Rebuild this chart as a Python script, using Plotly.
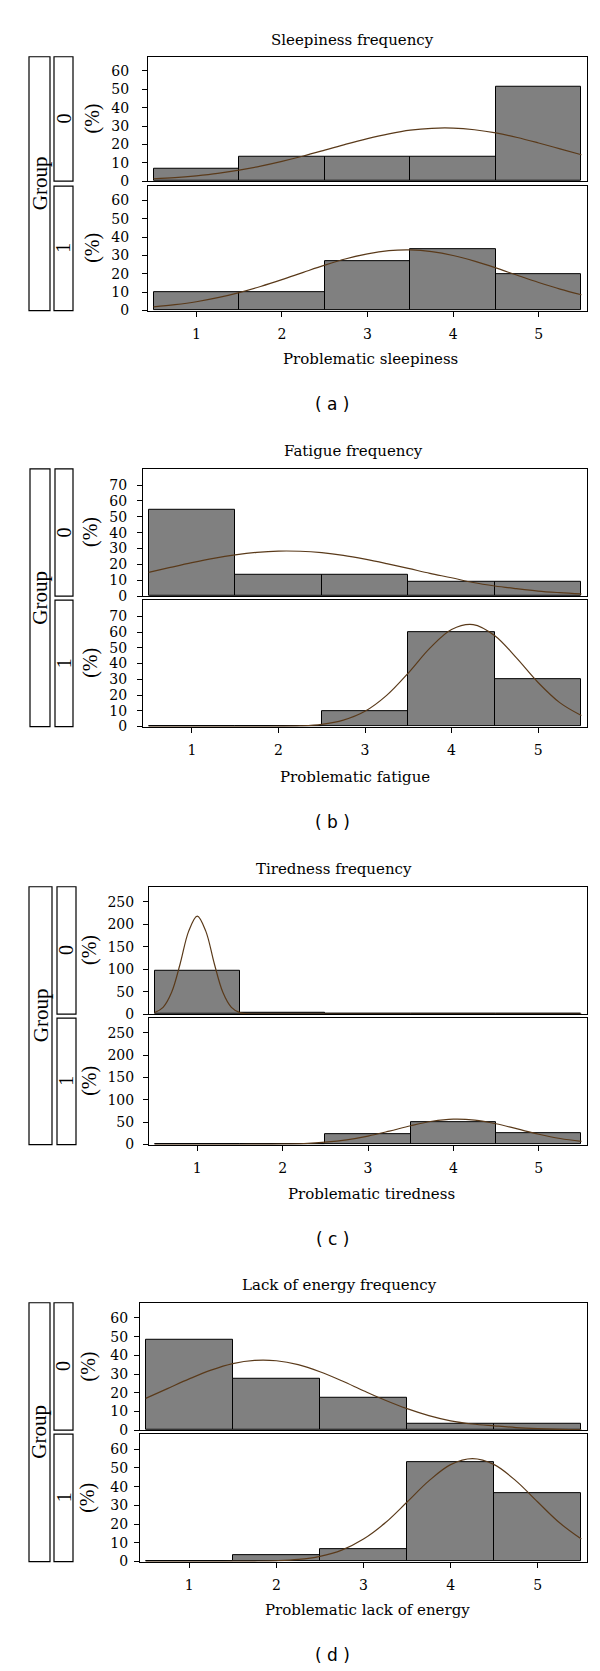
import plotly.graph_objects as go

# ---------------- data ----------------
CATS = [1, 2, 3, 4, 5]
X_TICKS = [1, 2, 3, 4, 5]
CURVE_X = [0.5, 0.75, 1.0, 1.25, 1.5, 1.75, 2.0, 2.25, 2.5, 2.75, 3.0,
           3.25, 3.5, 3.75, 4.0, 4.25, 4.5, 4.75, 5.0, 5.25, 5.5]

sleep_g0 = [6.5, 13.5, 13.5, 13.5, 51.5]
sleep_g1 = [10.0, 10.0, 26.7, 33.3, 20.0]
sleep_g0_curve = [1.3, 1.9, 2.9, 4.2, 6.0, 8.2, 10.8, 13.7, 16.9, 20.2, 23.2,
                  25.8, 27.8, 28.8, 28.9, 28.0, 26.3, 23.8, 20.8, 17.6, 14.4]
sleep_g1_curve = [2.0, 3.2, 4.8, 7.0, 9.8, 13.1, 16.8, 20.8, 24.7, 28.2, 30.9,
                  32.6, 33.0, 32.1, 30.0, 26.9, 23.2, 19.2, 15.3, 11.7, 8.6]

fatigue_g0 = [54.3, 13.6, 13.6, 9.1, 9.1]
fatigue_g1 = [0.0, 0.0, 10.0, 60.0, 30.0]
fatigue_g0_curve = [15.0, 18.1, 21.1, 23.8, 26.0, 27.6, 28.4, 28.3, 27.4, 25.7, 23.3,
                    20.5, 17.5, 14.4, 11.6, 8.6, 6.4, 4.7, 3.2, 2.2, 1.4]
fatigue_g1_curve = [0, 0, 0, 0, 0, 0, 0.1, 0.4, 1.4, 4.1, 9.7,
                    19.8, 34.0, 49.8, 61.7, 64.8, 57.7, 43.6, 28.0, 15.2, 7.0]

tired_g0 = [95.8, 4.2, 0.0, 0.0, 0.0]
tired_g1 = [0.0, 0.0, 23.7, 49.8, 25.5]
TIRED_G0_X = [0.5, 0.6, 0.7, 0.8, 0.9, 1.0, 1.1, 1.2, 1.3, 1.4, 1.5, 1.6, 1.7,
              2.0, 3.0, 4.0, 5.0, 5.5]
tired_g0_curve = [3.4, 15.2, 48.6, 112, 184.5, 218, 184.5, 112, 48.6, 15.2, 3.4, 0.5, 0.1,
                  0, 0, 0, 0, 0]
tired_g1_curve = [0, 0, 0, 0, 0.1, 0.3, 0.85, 2.2, 5.2, 10.5, 18.9,
                  30.0, 42.1, 52.1, 56.9, 54.8, 46.6, 34.9, 23.1, 13.5, 7.0]

energy_g0 = [48.3, 27.6, 17.2, 3.4, 3.4]
energy_g1 = [0.0, 3.3, 6.7, 53.3, 36.4]
energy_g0_curve = [17.0, 22.2, 27.4, 32.1, 35.6, 37.3, 37.1, 35.0, 31.2, 26.4, 21.1,
                   16.0, 11.5, 7.8, 5.0, 3.3, 2.3, 1.4, 0.8, 0.4, 0.2]
energy_g1_curve = [0, 0, 0, 0, 0.03, 0.13, 0.4, 1.1, 2.8, 6.1, 12.0,
                   20.7, 31.8, 43.1, 51.8, 55.0, 51.8, 43.1, 31.8, 20.7, 12.0]

ticks_60 = [0, 10, 20, 30, 40, 50, 60]
ticks_70 = [0, 10, 20, 30, 40, 50, 60, 70]
ticks_250 = [0, 50, 100, 150, 200, 250]

titles = ["Sleepiness frequency", "Fatigue frequency", "Tiredness frequency",
          "Lack of energy frequency"]
xlabels = ["Problematic sleepiness", "Problematic fatigue", "Problematic tiredness",
           "Problematic lack of energy"]
panel_labels = ["( a )", "( b )", "( c )", "( d )"]
group_labels = ["0", "1"]

# ---------------- layout geometry (pixels) ----------------
W, H = 600, 1671
def px(x):
    return x / W
def py(y):
    return 1 - y / H

panels = [
    dict(title_y=32, title_x=344, top=(49, 174), bot=(179, 304), xlab_y=353, xlab_x=362,
         lab_y=398, left=140, ymax=67.75, ticks=ticks_60, pct_x=84.5, standoff=10,
         grp=(21, 42), strip=(46, 65),
         g0=sleep_g0, g1=sleep_g1, c0x=CURVE_X, c0=sleep_g0_curve, c1=sleep_g1_curve),
    dict(title_y=445, title_x=345, top=(463, 591), bot=(595, 722), xlab_y=773, xlab_x=347,
         lab_y=818, left=135, ymax=80.3, ticks=ticks_70, pct_x=82.5, standoff=7,
         grp=(22, 42), strip=(47, 65),
         g0=fatigue_g0, g1=fatigue_g1, c0x=CURVE_X, c0=fatigue_g0_curve, c1=fatigue_g1_curve),
    dict(title_y=865, title_x=326, top=(883, 1011), bot=(1015, 1142), xlab_y=1192, xlab_x=363,
         lab_y=1237, left=141, ymax=283, ticks=ticks_250, pct_x=81.5, standoff=6,
         grp=(21, 44), strip=(49, 68),
         g0=tired_g0, g1=tired_g1, c0x=TIRED_G0_X, c0=tired_g0_curve, c1=tired_g1_curve),
    dict(title_y=1283, title_x=331, top=(1301, 1429), bot=(1433, 1561), xlab_y=1610, xlab_x=359,
         lab_y=1655, left=132, ymax=68.1, ticks=ticks_60, pct_x=80, standoff=3,
         grp=(21, 42), strip=(46, 65),
         g0=energy_g0, g1=energy_g1, c0x=CURVE_X, c0=energy_g0_curve, c1=energy_g1_curve),
]
RIGHT = 579
BAR_FILL = "#808080"
CURVE_COLOR = "#5a3a1a"
SERIF_H = "DejaVu Serif"
SERIF_V = "Liberation Serif"

fig = go.Figure()
layout = dict(width=W, height=H, margin=dict(l=0, r=0, t=0, b=0),
              paper_bgcolor="white", plot_bgcolor="white", showlegend=False,
              bargap=0, barmode="overlay")
annotations = []
shapes = []

axis_common = dict(showline=True, mirror=True, linecolor="black", linewidth=1,
                   showgrid=False, zeroline=False)

for i, p in enumerate(panels):
    for j, (ytop, ybot) in enumerate([p["top"], p["bot"]]):
        k = 2 * i + j + 1
        xa = "xaxis" if k == 1 else f"xaxis{k}"
        ya = "yaxis" if k == 1 else f"yaxis{k}"
        xr = "x" if k == 1 else f"x{k}"
        yr = "y" if k == 1 else f"y{k}"
        vals = p["g0"] if j == 0 else p["g1"]
        cx = p["c0x"] if j == 0 else CURVE_X
        cy = p["c0"] if j == 0 else p["c1"]
        fig.add_trace(go.Bar(x=CATS, y=vals, width=1, xaxis=xr, yaxis=yr,
                             marker=dict(color=BAR_FILL, line=dict(color="black", width=1))))
        fig.add_trace(go.Scatter(x=cx, y=cy, mode="lines", xaxis=xr, yaxis=yr,
                                 line=dict(color=CURVE_COLOR, width=1.2, shape="spline")))
        xdict = dict(axis_common, domain=[px(p["left"]), px(RIGHT)], range=[0.435, 5.565],
                     anchor=yr, tickvals=X_TICKS)
        if j == 0:
            xdict.update(showticklabels=False, ticks="")
        else:
            xdict.update(ticks="outside", ticklen=5, tickcolor="black", tickwidth=1,
                         ticklabelstandoff=6,
                         tickfont=dict(family=SERIF_H, size=14, color="black"))
        ydict = dict(axis_common, domain=[py(ybot), py(ytop)], range=[0, p["ymax"]],
                     anchor=xr, tickvals=p["ticks"], ticks="outside", ticklen=5,
                     tickcolor="black", tickwidth=1, ticklabelstandoff=p["standoff"],
                     tickfont=dict(family=SERIF_H, size=14, color="black"))
        layout[xa] = xdict
        layout[ya] = ydict

        # inner strip (group value)
        s0, s1 = p["strip"]
        shapes.append(dict(type="rect", xref="paper", yref="paper",
                           x0=px(s0), x1=px(s1), y0=py(ybot), y1=py(ytop),
                           line=dict(color="black", width=1.2), fillcolor="white"))
        annotations.append(dict(x=px((s0 + s1) / 2), y=py((ytop + ybot) / 2), xref="paper",
                                yref="paper", text=group_labels[j], showarrow=False,
                                textangle=-90, xanchor="center", yanchor="middle",
                                font=dict(family=SERIF_V, size=20, color="black")))
        annotations.append(dict(x=px(p["pct_x"]), y=py((ytop + ybot) / 2), xref="paper",
                                yref="paper", text="(%)", showarrow=False, textangle=-90,
                                xanchor="center", yanchor="middle",
                                font=dict(family=SERIF_V, size=20, color="black")))
    # outer "Group" strip
    g0_, g1_ = p["grp"]
    shapes.append(dict(type="rect", xref="paper", yref="paper",
                       x0=px(g0_), x1=px(g1_), y0=py(p["bot"][1]), y1=py(p["top"][0]),
                       line=dict(color="black", width=1.2), fillcolor="white"))
    annotations.append(dict(x=px((g0_ + g1_) / 2), y=py((p["top"][0] + p["bot"][1]) / 2),
                            xref="paper", yref="paper", text="Group", showarrow=False,
                            textangle=-90, xanchor="center", yanchor="middle",
                            font=dict(family=SERIF_V, size=21, color="black")))
    # title, x label, panel label
    annotations.append(dict(x=px(p["title_x"]), y=py(p["title_y"]), xref="paper", yref="paper",
                            text=titles[i], showarrow=False, xanchor="center", yanchor="middle",
                            font=dict(family=SERIF_H, size=15, color="black")))
    annotations.append(dict(x=px(p["xlab_x"]), y=py(p["xlab_y"]), xref="paper", yref="paper",
                            text=xlabels[i], showarrow=False, xanchor="center", yanchor="middle",
                            font=dict(family=SERIF_H, size=15, color="black")))
    annotations.append(dict(x=px(324), y=py(p["lab_y"]), xref="paper", yref="paper",
                            text=panel_labels[i], showarrow=False, xanchor="center",
                            yanchor="middle",
                            font=dict(family="DejaVu Sans", size=17, color="black")))

layout["annotations"] = annotations
layout["shapes"] = shapes
fig.update_layout(**layout)
fig.write_html("out.html")
